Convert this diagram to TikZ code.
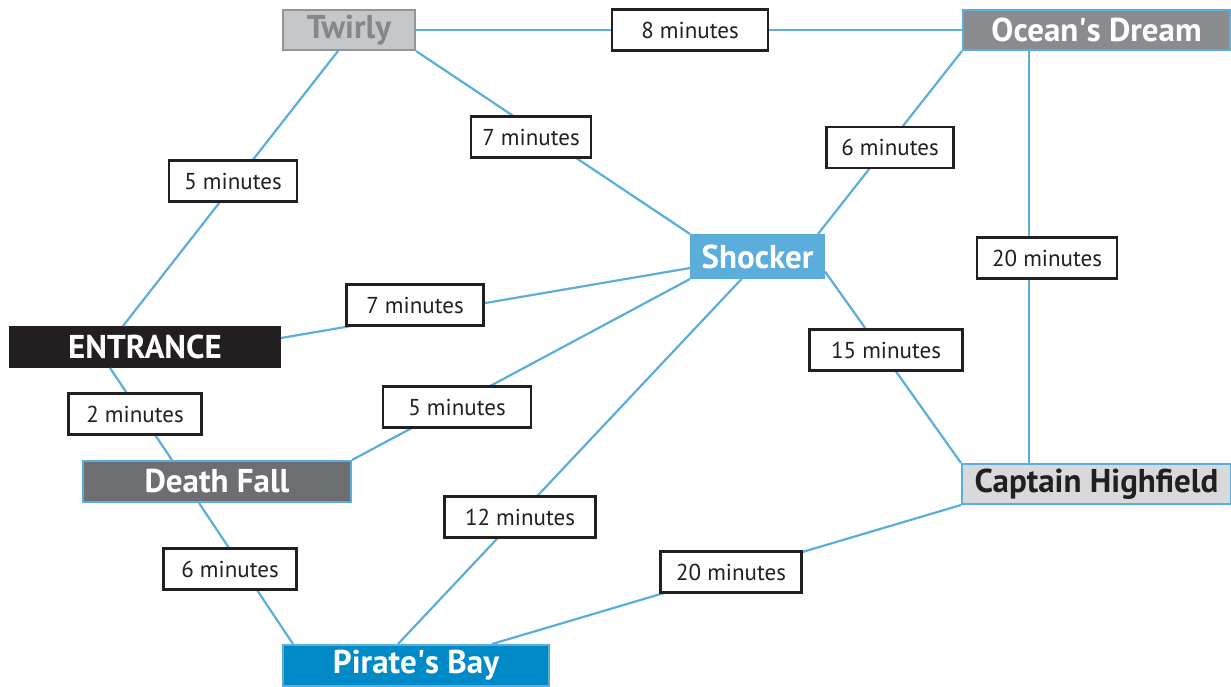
\documentclass[tikz,border=0pt]{standalone}
\usepackage{fontspec}
\setmainfont{PT Sans}
\usetikzlibrary{positioning, calc}
\definecolor{linkblue}{RGB}{91,174,220}
\definecolor{inkblack}{RGB}{35,31,32}
\definecolor{twirlygray}{RGB}{198,199,201}
\definecolor{twirlyedge}{RGB}{147,149,152}
\definecolor{twirlytext}{RGB}{133,135,138}
\definecolor{oceangray}{RGB}{138,139,142}
\definecolor{fallgray}{RGB}{109,110,113}
\definecolor{captaingray}{RGB}{216,217,219}
\definecolor{piratesblue}{RGB}{0,139,200}
\tikzset{
        ride-node/.style={
            draw=linkblue, line width=2pt, minimum height=40, inner sep=0pt,
            font=\fontsize{33}{36}\selectfont\bfseries, text=white
        },
        time-label/.style={
            draw=inkblack, fill=white, line width=2.4pt, minimum height=41, inner sep=0pt,
            font=\fontsize{23}{26}\selectfont, text=inkblack
        },
        link/.style={draw=linkblue, line width=2.2pt},
}
\begin{document}
\begin{tikzpicture}[x=1pt, y=-1pt]
        \useasboundingbox (0,0) rectangle (1231,686);

        % DRAW RIDES (at coordinates, like the map)
        \node[ride-node, fill=twirlygray, draw=twirlyedge, text=twirlytext, minimum width=132] (TWIRLY)   at (349,30)      {Twirly};
        \node[ride-node, fill=oceangray, minimum width=267]                                     (OCEAN)    at (1096.5,30)   {Ocean\textquotesingle s Dream};
        \node[ride-node, fill=linkblue, minimum width=133, minimum height=43]                   (SHOCKER)  at (757.5,256.5) {Shocker};
        \node[ride-node, fill=inkblack, draw=inkblack, minimum width=270]                       (ENTRANCE) at (145,347)     {ENTRANCE};
        \node[ride-node, fill=fallgray, minimum width=268, minimum height=41]                   (FALL)     at (217,481.5)   {Death Fall};
        \node[ride-node, fill=captaingray, text=inkblack, minimum width=269]                    (CAPTAIN)  at (1096.5,484)  {Captain Highfield};
        \node[ride-node, fill=piratesblue, minimum width=266, minimum height=41]                (PIRATE)   at (416,665.5)   {Pirate\textquotesingle s Bay};

        % CONNECT RIDES
        \draw [link] (TWIRLY.east) -- (OCEAN.west);
        \draw [link] (TWIRLY.south east) -- (SHOCKER.north west);
        \draw [link] ([xshift=-11]TWIRLY.south) -- ([xshift=-22]ENTRANCE.north);
        \draw [link] (OCEAN.south west) -- ([xshift=-7]SHOCKER.north east);
        \draw [link] ([xshift=-67.5]OCEAN.south) -- ([xshift=-67.5]CAPTAIN.north);
        \draw [link] ([yshift=9]ENTRANCE.east) -- ([yshift=-11.5]SHOCKER.west);
        \draw [link] ([xshift=-35]ENTRANCE.south) -- ([xshift=-45]FALL.north);
        \draw [link] (SHOCKER.south west) -- (FALL.north east);
        \draw [link] ([xshift=-16]SHOCKER.south) -- ([xshift=-18]PIRATE.north);
        \draw [link] ([yshift=-15]SHOCKER.east) -- (CAPTAIN.north west);
        \draw [link] ([xshift=-18]FALL.south) -- ([xshift=-123]PIRATE.north);
        \draw [link] (CAPTAIN.south west) -- ([xshift=76]PIRATE.north);

        % TIMES ON THE LINKS
        \node[time-label, minimum width=156] (T8)  at (690,30)    {8 minutes};
        \node[time-label, minimum width=120] (T7A) at (531,137)   {7 minutes};
        \node[time-label, minimum width=127] (T6A) at (890,147.5) {6 minutes};
        \node[time-label, minimum width=128] (T5A) at (233,181)   {5 minutes};
        \node[time-label, minimum width=140] (T20A) at (1047,258) {20 minutes};
        \node[time-label, minimum width=137] (T7B) at (415,305)   {7 minutes};
        \node[time-label, minimum width=153] (T15) at (886,350)   {15 minutes};
        \node[time-label, minimum width=133] (T2)  at (135,414)   {2 minutes};
        \node[time-label, minimum width=148] (T5B) at (457,407)   {5 minutes};
        \node[time-label, minimum width=151] (T12) at (520,517)   {12 minutes};
        \node[time-label, minimum width=133] (T6B) at (230,569)   {6 minutes};
        \node[time-label, minimum width=141] (T20B) at (731,572)  {20 minutes};

\end{tikzpicture}
\end{document}
